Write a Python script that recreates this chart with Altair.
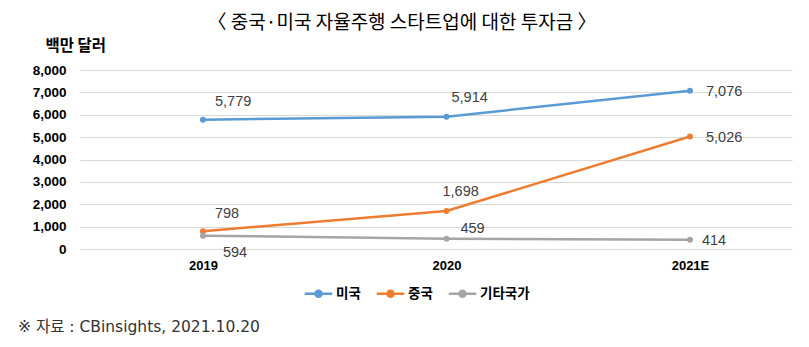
import altair as alt
import pandas as pd

years = ["2019", "2020", "2021E"]
series = ["미국", "중국", "기타국가"]
us = [5779, 5914, 7076]
cn = [798, 1698, 5026]
other = [594, 459, 414]
colors = ["#5B9BD5", "#ED7D31", "#A5A5A5"]

rows = []
for name, vals in zip(series, [us, cn, other]):
    for i, (y, v) in enumerate(zip(years, vals)):
        rows.append({"year": y, "idx": i, "country": name, "value": v, "key": f"{name}-{y}"})
df = pd.DataFrame(rows)

FONT = "Liberation Sans, Noto Sans CJK KR, sans-serif"
KFONT = "Noto Sans CJK KR, sans-serif"

label_expr = "datum.value == 0 ? '2019' : datum.value == 1 ? '2020' : '2021E'"
x_scale = alt.Scale(domain=[-0.505, 2.419], nice=False, zero=False)
y_scale = alt.Scale(domain=[0, 8000], nice=False)

x = alt.X("idx:Q", scale=x_scale,
          axis=alt.Axis(title=None, values=[0, 1, 2], labelExpr=label_expr, labelAngle=0,
                        labelFont=FONT, labelFontWeight="bold", labelFontSize=13,
                        labelColor="#000000", domain=False, ticks=False, labelPadding=10,
                        grid=False))
y = alt.Y("value:Q", scale=y_scale,
          axis=alt.Axis(values=list(range(0, 8001, 1000)),
                        labelExpr="format(datum.value, ',')", title="백만 달러",
                        titleAngle=0, titleX=-35, titleY=-17, titleAlign="left",
                        titleFont=KFONT, titleFontSize=15.5, titleFontWeight="bold",
                        titleColor="#000000", labelFont=FONT, labelFontWeight="bold",
                        labelFontSize=13.5, labelColor="#000000", labelPadding=14,
                        domain=False, ticks=False, gridColor="#D9D9D9", gridWidth=1.2))
color = alt.Color("country:N", sort=series, scale=alt.Scale(domain=series, range=colors),
                  legend=alt.Legend(title=None, orient="none", legendX=223, legendY=208,
                                    direction="horizontal", labelFont=KFONT, labelFontSize=13.5,
                                    labelFontWeight="bold", labelColor="#000000",
                                    symbolType="M-1,0L1,0M-0.22,0a0.22,0.22 0 1,0 0.44,0a0.22,0.22 0 1,0 -0.44,0",
                                    symbolSize=760, symbolStrokeWidth=2.5, columnPadding=10,
                                    labelOffset=2))

base = alt.Chart(df)
lines = base.mark_line(strokeWidth=2.5).encode(x=x, y=y, color=color)
points = base.mark_point(filled=True, size=36, opacity=1).encode(
    x=x, y=y, color=color)

# label placements (dx, dy) per point
place = {
    "미국-2019": (12, -18),
    "미국-2020": (5, -19),
    "미국-2021E": (16, 1),
    "중국-2019": (12, -17),
    "중국-2020": (-4, -19),
    "중국-2021E": (16, 1),
    "기타국가-2019": (20, 17),
    "기타국가-2020": (14, -10),
    "기타국가-2021E": (12, 1),
}
label_layers = []
for k, (dx, dy) in place.items():
    label_layers.append(
        base.transform_filter(alt.datum.key == k).mark_text(
            dx=dx, dy=dy, align="left", baseline="middle", font=FONT, fontSize=14.5, color="#404040"
        ).encode(x=x, y=y, text=alt.Text("value:Q", format=","))
    )

footer = alt.Chart(pd.DataFrame({"t": ["※  자료  :  CBinsights,  2021.10.20"]})).mark_text(
    align="left", baseline="middle", font="DejaVu Sans, Noto Sans CJK KR, sans-serif",
    fontSize=15.5, color="#333333"
).encode(text="t:N", x=alt.value(-62), y=alt.value(257))

chart = alt.layer(lines, points, *label_layers, footer).properties(
    width=712, height=179,
    title=alt.TitleParams("〈 중국·미국 자율주행 스타트업에 대한 투자금 〉", font=KFONT, fontSize=19,
                          fontWeight="normal", color="#000000", anchor="middle", frame="group",
                          dx=-34, offset=5),
    autosize=alt.AutoSizeParams(type="none"),
    padding={"left": 80, "top": 70, "right": 17, "bottom": 98},
).configure(background="#FFFFFF").configure_view(stroke=None)

chart.save("out.html", embed_options={"renderer": "svg", "actions": False})
